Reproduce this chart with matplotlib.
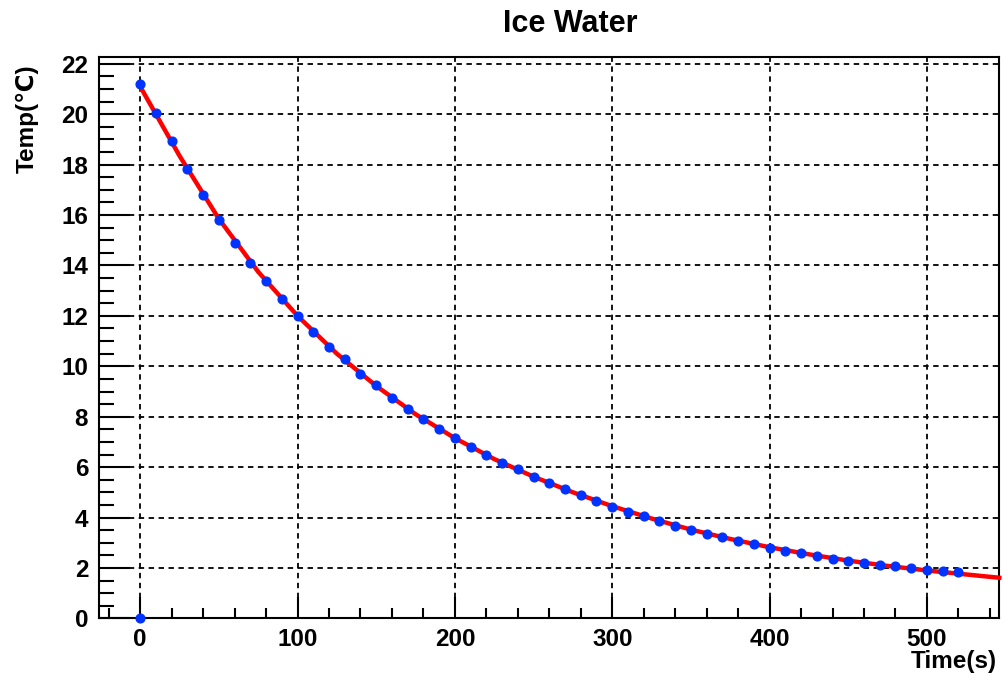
import numpy as np
import matplotlib.pyplot as plt
from matplotlib.ticker import MultipleLocator

# measured points (time in s, temperature in degC)
time_s = [0, 0, 10, 20, 30, 40, 50, 60, 70, 80, 90, 100, 110, 120, 130, 140, 150,
          160, 170, 180, 190, 200, 210, 220, 230, 240, 250, 260, 270, 280, 290,
          300, 310, 320, 330, 340, 350, 360, 370, 380, 390, 400, 410, 420, 430,
          440, 450, 460, 470, 480, 490, 500, 510, 520]
temp_c = [0.0, 21.19, 20.07, 18.93, 17.82, 16.79, 15.82, 14.91, 14.11, 13.39, 12.67,
          11.98, 11.36, 10.77, 10.27, 9.71, 9.25, 8.76, 8.31, 7.90, 7.50, 7.15,
          6.80, 6.47, 6.16, 5.91, 5.61, 5.38, 5.15, 4.91, 4.67, 4.43, 4.20, 4.05,
          3.85, 3.65, 3.49, 3.35, 3.21, 3.08, 2.95, 2.80, 2.69, 2.61, 2.47, 2.37,
          2.29, 2.21, 2.13, 2.06, 2.00, 1.93, 1.86, 1.84]

# fitted curve
fit_t = [0, 25, 50, 75, 100, 125, 150, 175, 200, 225, 250, 275, 300, 325, 350,
         375, 400, 425, 450, 475, 500, 525, 546]
fit_T = [21.10, 18.35, 15.85, 13.75, 12.00, 10.50, 9.22, 8.10, 7.15, 6.32, 5.62,
         5.00, 4.45, 3.96, 3.52, 3.15, 2.82, 2.54, 2.29, 2.08, 1.90, 1.74, 1.61]

xticks = [0, 100, 200, 300, 400, 500]
yticks = list(range(0, 23, 2))

font = ['Liberation Sans', 'DejaVu Sans']

fig = plt.figure(figsize=(10.04, 6.8), dpi=100)
ax = fig.add_axes([0.0989, 0.0907, 0.8964, 0.825])

ax.plot(fit_t, fit_T, color='#ff0000', lw=3.2, zorder=3, clip_on=False)
ax.plot(time_s, temp_c, 'o', color='#0033ff', ms=6.3, mec='#0033ff', zorder=4, clip_on=False)

ax.set_xlim(-26, 546)
ax.set_ylim(0, 22.26)
ax.set_xticks(xticks)
ax.set_yticks(yticks)
ax.xaxis.set_minor_locator(MultipleLocator(20))
ax.yaxis.set_minor_locator(MultipleLocator(0.5))
ax.tick_params(which='major', direction='in', length=22, width=1.5, labelsize=17.5, pad=8)
ax.tick_params(axis='x', which='major', length=15, pad=7)
ax.tick_params(which='minor', direction='in', length=11, width=1.5)
ax.tick_params(axis='x', which='minor', length=7)
for lab in ax.get_xticklabels() + ax.get_yticklabels():
    lab.set_family(font)
    lab.set_fontweight('bold')

ax.grid(True, which='major', color='black', linestyle=(0, (3, 2.5)), lw=1.3)
for s in ax.spines.values():
    s.set_linewidth(1.5)

fig.text(0.5677, 0.965, 'Ice Water', ha='center', va='center', fontsize=22,
         fontweight='bold', family=font)
fig.text(0.027, 0.905, 'Temp(℃)', rotation=90, ha='center', va='top', fontsize=17.5,
         fontweight='bold', family=font)
fig.text(0.993, 0.027, 'Time(s)', ha='right', va='center', fontsize=17.5,
         fontweight='bold', family=font)

fig.savefig('out.png', dpi=100)
